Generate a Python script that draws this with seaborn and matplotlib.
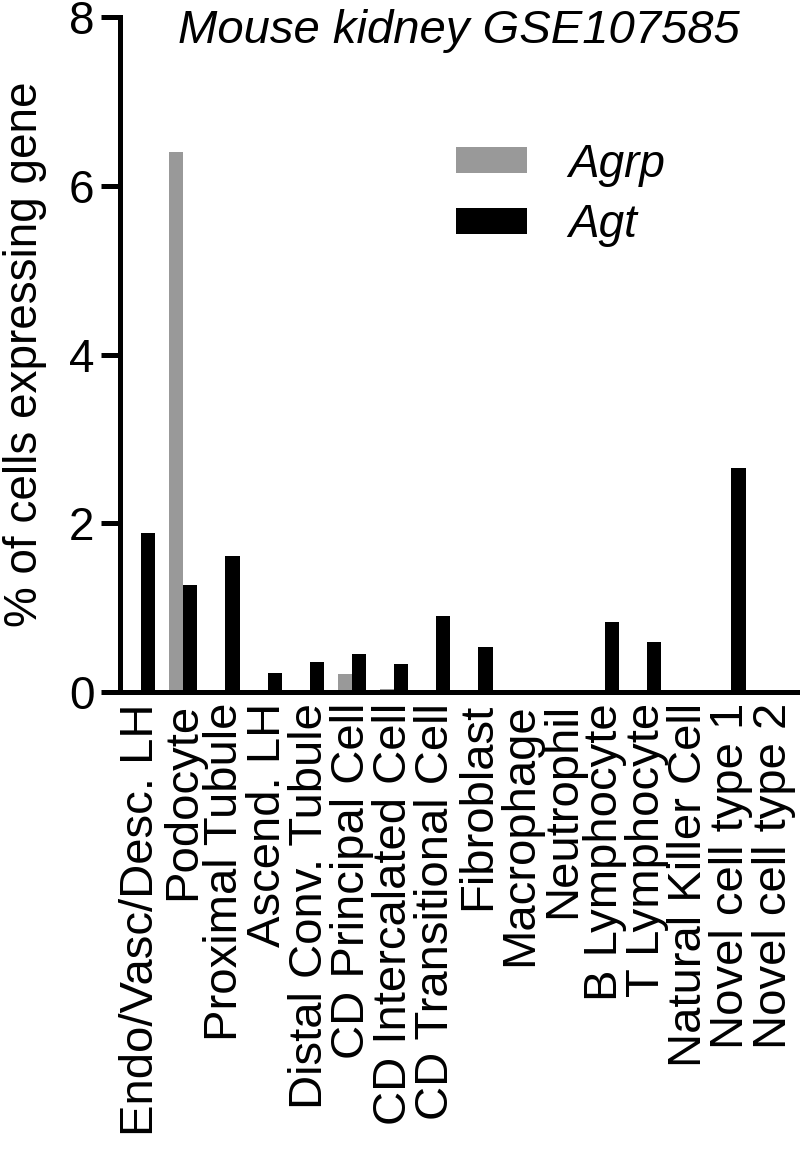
import pandas as pd
import matplotlib
matplotlib.use("Agg")
import matplotlib.pyplot as plt
import seaborn as sns

# ---------------- datos ----------------
cell_types = ['Endo/Vasc/Desc. LH', 'Podocyte', 'Proximal Tubule', 'Ascend. LH',
              'Distal Conv. Tubule', 'CD Principal Cell', 'CD Intercalated Cell',
              'CD Transitional Cell', 'Fibroblast', 'Macrophage', 'Neutrophil',
              'B Lymphocyte', 'T Lymphocyte', 'Natural Killer Cell',
              'Novel cell type 1', 'Novel cell type 2']
agrp_pct = [0, 6.4, 0, 0, 0, 0.21, 0.03, 0, 0, 0, 0, 0, 0, 0, 0, 0]
agt_pct = [1.88, 1.27, 1.61, 0.23, 0.35, 0.45, 0.33, 0.90, 0.53, 0, 0, 0.83, 0.59, 0, 2.65, 0]
genes = ['Agrp', 'Agt']
y_ticks = [0, 2, 4, 6, 8]


def armar_df():
    df = pd.DataFrame({
        'celula': cell_types * 2,
        'gen': ['Agrp'] * len(cell_types) + ['Agt'] * len(cell_types),
        'pct': agrp_pct + agt_pct,
    })
    df['celula'] = pd.Categorical(df['celula'], categories=cell_types, ordered=True)
    df['gen'] = pd.Categorical(df['gen'], categories=genes, ordered=True)
    return df


def graficar(df):
    sns.set_style("ticks")
    plt.rcParams['font.family'] = ['Liberation Sans', 'DejaVu Sans']
    # todo el texto en negro
    for k in ['text.color', 'axes.labelcolor', 'xtick.color', 'ytick.color']:
        plt.rcParams[k] = 'black'

    fig = plt.figure(figsize=(8, 11.51), dpi=100)
    ax = fig.add_axes([0.15, 0.3988, 0.846, 0.5864])

    sns.barplot(data=df, x='celula', y='pct', hue='gen', ax=ax,
                palette={'Agrp': '#999999', 'Agt': '#000000'},
                width=0.67, saturation=1, errorbar=None, linewidth=0)

    ax.set_ylim(0, 8)
    ax.set_xlim(-0.5, 15.55)
    ax.set_yticks(y_ticks)
    ax.set_yticklabels([str(t) for t in y_ticks], fontsize=33)
    ax.tick_params(axis='y', length=13.5, width=3.6, pad=5, color='black')
    ax.tick_params(axis='x', length=0, pad=8)
    ax.set_xticks(range(len(cell_types)))
    ax.set_xticklabels(cell_types, rotation=90, fontsize=34)

    for s in ['top', 'right']:
        ax.spines[s].set_visible(False)
    for s in ['left', 'bottom']:
        ax.spines[s].set_linewidth(3.6)
        ax.spines[s].set_color('black')

    ax.set_xlabel('')
    ax.set_ylabel('% of cells expressing gene', fontsize=33, labelpad=16)

    ax.text(0.5, 1.012, 'Mouse kidney GSE107585', transform=ax.transAxes,
            ha='center', va='top', fontsize=34, style='italic')

    leg = ax.legend(loc='upper left', bbox_to_anchor=(0.463, 0.848), frameon=False,
                    fontsize=33, handlelength=1.55, handleheight=0.5,
                    labelspacing=0.36, handletextpad=0.9, borderpad=0)
    for t in leg.get_texts():
        t.set_style('italic')

    fig.savefig('out.png', dpi=100)


def main():
    df = armar_df()
    graficar(df)


if __name__ == '__main__':
    main()
